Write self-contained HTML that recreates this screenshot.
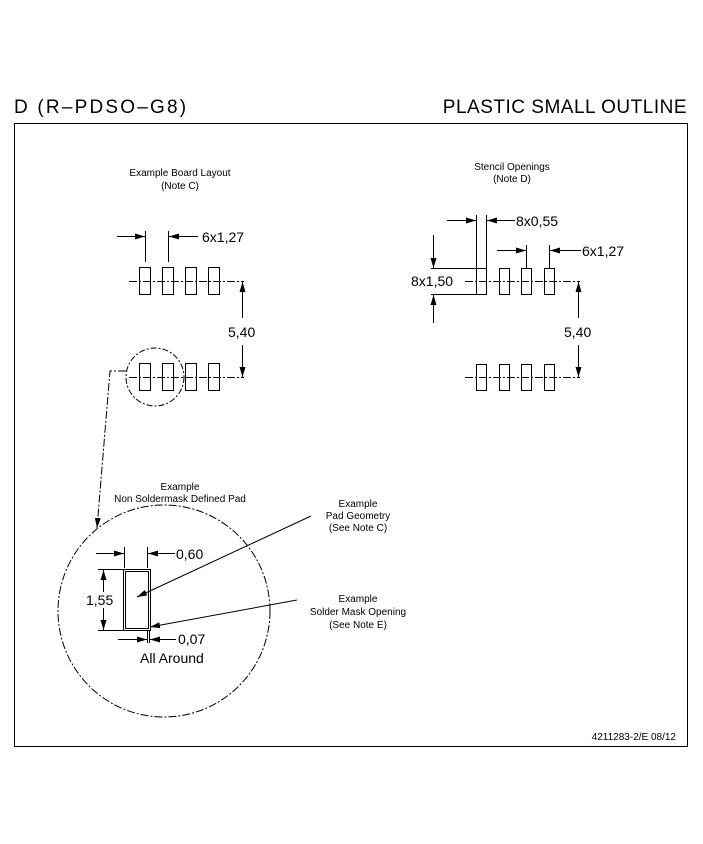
<!DOCTYPE html>
<html><head><style>
html,body{margin:0;padding:0;background:#fff;}
svg{display:block;}
text{font-family:"Liberation Sans",sans-serif;fill:#000;}
</style></head><body>
<svg width="703" height="844" viewBox="0 0 703 844" xmlns="http://www.w3.org/2000/svg">
<defs>
<marker id="a" viewBox="0 0 10 6" refX="10" refY="3" markerWidth="10" markerHeight="6" orient="auto" markerUnits="userSpaceOnUse"><path d="M0,0 L10,3 L0,6 z" fill="#000"/></marker>
</defs>
<g stroke="#000" stroke-width="1" fill="none">
<rect x="14.5" y="123.5" width="673" height="623"/>
</g>
<text x="14" y="113" font-size="19" letter-spacing="2.2">D (R–PDSO–G8)</text>
<text x="687" y="113" font-size="19" text-anchor="end" letter-spacing="0.5">PLASTIC SMALL OUTLINE</text>

<g font-size="10" text-anchor="middle">
<text x="180" y="176">Example Board Layout</text>
<text x="180" y="189">(Note C)</text>
<text x="512" y="170">Stencil Openings</text>
<text x="512" y="182">(Note D)</text>
<text x="180" y="490">Example</text>
<text x="180" y="502">Non Soldermask Defined Pad</text>
<text x="358" y="507">Example</text>
<text x="358" y="519">Pad Geometry</text>
<text x="358" y="531">(See Note C)</text>
<text x="358" y="602">Example</text>
<text x="358" y="615">Solder Mask Opening</text>
<text x="358" y="628">(See Note E)</text>
</g>
<text x="676" y="740" font-size="10" text-anchor="end">4211283-2/E  08/12</text>

<g stroke="#000" stroke-width="1" fill="none">
<line x1="129" y1="281.5" x2="244" y2="281.5" stroke-dasharray="8,2,2,2"/>
<line x1="129" y1="377.5" x2="244" y2="377.5" stroke-dasharray="8,2,2,2"/>
<rect x="139.5" y="267.5" width="11" height="27"/><rect x="162.5" y="267.5" width="11" height="27"/>
<rect x="185.5" y="267.5" width="11" height="27"/><rect x="208.5" y="267.5" width="11" height="27"/>
<rect x="139.5" y="363.5" width="11" height="27"/><rect x="162.5" y="363.5" width="11" height="27"/>
<rect x="185.5" y="363.5" width="11" height="27"/><rect x="208.5" y="363.5" width="11" height="27"/>
<line x1="145.5" y1="231" x2="145.5" y2="262"/><line x1="168.5" y1="231" x2="168.5" y2="262"/>
<line x1="117" y1="236.5" x2="145" y2="236.5" marker-end="url(#a)"/>
<line x1="198" y1="236.5" x2="169" y2="236.5" marker-end="url(#a)"/>
<line x1="242.5" y1="318" x2="242.5" y2="282" marker-end="url(#a)"/>
<line x1="242.5" y1="345" x2="242.5" y2="377" marker-end="url(#a)"/>
<circle cx="155" cy="377" r="29" stroke-dasharray="6,2,2,2"/>
<polyline points="126,371 110,371 97,528" stroke-dasharray="8,2,2,2" marker-end="url(#a)"/>
</g>
<text x="228" y="337" font-size="14">5,40</text>
<text x="202" y="242" font-size="14">6x1,27</text>

<g stroke="#000" stroke-width="1" fill="none">
<line x1="465" y1="281.5" x2="580" y2="281.5" stroke-dasharray="8,2,2,2"/>
<line x1="465" y1="377.5" x2="580" y2="377.5" stroke-dasharray="8,2,2,2"/>
<rect x="476.5" y="268.5" width="10" height="26"/><rect x="499.5" y="268.5" width="10" height="26"/>
<rect x="521.5" y="268.5" width="10" height="26"/><rect x="544.5" y="268.5" width="10" height="26"/>
<rect x="476.5" y="364.5" width="10" height="26"/><rect x="499.5" y="364.5" width="10" height="26"/>
<rect x="521.5" y="364.5" width="10" height="26"/><rect x="544.5" y="364.5" width="10" height="26"/>
<line x1="476.5" y1="215" x2="476.5" y2="268"/><line x1="486.5" y1="215" x2="486.5" y2="268"/>
<line x1="447" y1="220.5" x2="476" y2="220.5" marker-end="url(#a)"/>
<line x1="515" y1="220.5" x2="487" y2="220.5" marker-end="url(#a)"/>
<line x1="526.5" y1="245" x2="526.5" y2="268"/><line x1="549.5" y1="245" x2="549.5" y2="268"/>
<line x1="497" y1="250.5" x2="526" y2="250.5" marker-end="url(#a)"/>
<line x1="581" y1="250.5" x2="550" y2="250.5" marker-end="url(#a)"/>
<line x1="431" y1="268.5" x2="476" y2="268.5"/><line x1="431" y1="294.5" x2="476" y2="294.5"/>
<line x1="433.5" y1="235" x2="433.5" y2="268" marker-end="url(#a)"/>
<line x1="433.5" y1="323" x2="433.5" y2="295" marker-end="url(#a)"/>
<line x1="578.5" y1="318" x2="578.5" y2="282" marker-end="url(#a)"/>
<line x1="578.5" y1="345" x2="578.5" y2="377" marker-end="url(#a)"/>
</g>
<text x="516" y="226" font-size="14">8x0,55</text>
<text x="582" y="256" font-size="14">6x1,27</text>
<text x="411" y="286" font-size="14">8x1,50</text>
<text x="564" y="337" font-size="14">5,40</text>

<g stroke="#000" stroke-width="1" fill="none">
<circle cx="164" cy="611" r="106" stroke-dasharray="8,2,2,2"/>
<rect x="123.5" y="569.5" width="27" height="61"/>
<rect x="125.5" y="571.5" width="23" height="57"/>
<line x1="124.5" y1="547" x2="124.5" y2="568"/><line x1="147.5" y1="547" x2="147.5" y2="568"/>
<line x1="96" y1="553.5" x2="124" y2="553.5" marker-end="url(#a)"/>
<line x1="175" y1="553.5" x2="148" y2="553.5" marker-end="url(#a)"/>
<line x1="98" y1="569.5" x2="123" y2="569.5"/><line x1="98" y1="630.5" x2="123" y2="630.5"/>
<line x1="103.5" y1="592" x2="103.5" y2="570" marker-end="url(#a)"/>
<line x1="103.5" y1="608" x2="103.5" y2="630" marker-end="url(#a)"/>
<line x1="147.5" y1="630" x2="147.5" y2="643"/><line x1="149.5" y1="630" x2="149.5" y2="643"/>
<line x1="118" y1="639.5" x2="147" y2="639.5" marker-end="url(#a)"/>
<line x1="176" y1="639.5" x2="150" y2="639.5" marker-end="url(#a)"/>
<line x1="311" y1="516" x2="137" y2="597" marker-end="url(#a)"/>
<line x1="297" y1="600" x2="150" y2="627" marker-end="url(#a)"/>
</g>
<text x="176" y="559" font-size="14">0,60</text>
<text x="86" y="605" font-size="14">1,55</text>
<text x="178" y="644" font-size="14">0,07</text>
<text x="140" y="663" font-size="14">All Around</text>
</svg>
</body></html>
